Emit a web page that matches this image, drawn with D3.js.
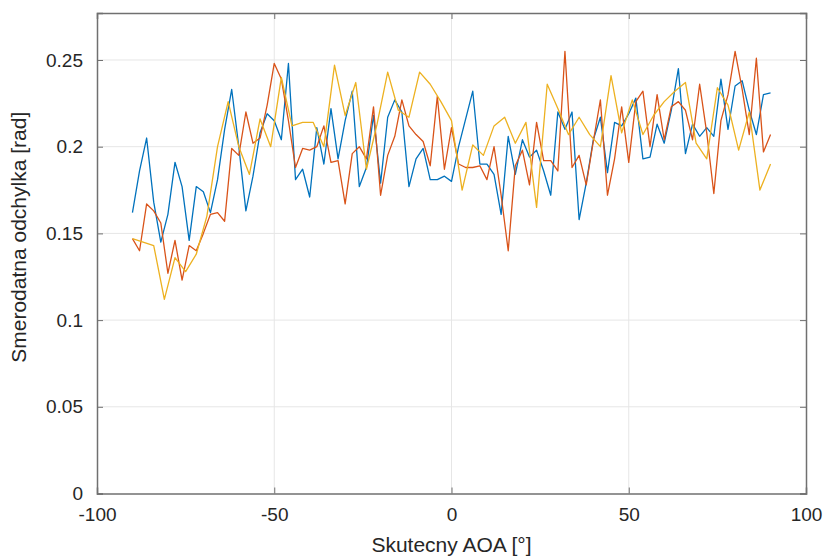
<!DOCTYPE html>
<html>
<head>
<meta charset="utf-8">
<script src="https://cdn.jsdelivr.net/npm/d3@7"></script>
<style>
  html, body { margin: 0; padding: 0; background: #fff; }
  svg { display: block; font-family: "Liberation Sans", Arial, Helvetica, sans-serif; }
</style>
</head>
<body>
<svg id="chart" width="825" height="558"></svg>
<script>
// ---- data ----
const xTicks = [-100, -50, 0, 50, 100];
const xTickLabels = ["-100", "-50", "0", "50", "100"];
const yTicks = [0, 0.05, 0.1, 0.15, 0.2, 0.25];
const yTickLabels = ["0", "0.05", "0.1", "0.15", "0.2", "0.25"];
const xLabel = "Skutecny AOA [°]";
const yLabel = "Smerodatna odchylka [rad]";

// angles for blue & orange series (every 2°)
const anglesA = d3.range(-90, 91, 2);
// angles for yellow series (every 3°)
const anglesB = d3.range(-90, 91, 3);

const blueValues = [
  0.162, 0.186, 0.205, 0.168, 0.145, 0.161, 0.191, 0.177, 0.146, 0.177,
  0.174, 0.162, 0.181, 0.210, 0.233, 0.200, 0.163, 0.183, 0.208, 0.219,
  0.215, 0.204, 0.248, 0.181, 0.187, 0.171, 0.211, 0.190, 0.222, 0.193,
  0.215, 0.232, 0.177, 0.188, 0.218, 0.179, 0.217, 0.227, 0.220, 0.177,
  0.193, 0.199, 0.181, 0.181, 0.183, 0.180, 0.200, 0.216, 0.232, 0.190,
  0.190, 0.184, 0.161, 0.206, 0.184, 0.204, 0.194, 0.198, 0.186, 0.172,
  0.220, 0.210, 0.220, 0.158, 0.179, 0.204, 0.217, 0.185, 0.214, 0.212,
  0.219, 0.228, 0.193, 0.194, 0.213, 0.202, 0.221, 0.245, 0.196, 0.213,
  0.206, 0.211, 0.206, 0.239, 0.210, 0.235, 0.238, 0.221, 0.207, 0.230,
  0.231
];
const orangeValues = [
  0.147, 0.140, 0.167, 0.163, 0.156, 0.127, 0.146, 0.123, 0.143, 0.140,
  0.150, 0.161, 0.162, 0.157, 0.199, 0.195, 0.220, 0.202, 0.205, 0.224,
  0.248, 0.239, 0.215, 0.188, 0.199, 0.198, 0.200, 0.212, 0.191, 0.192,
  0.167, 0.196, 0.200, 0.193, 0.223, 0.172, 0.195, 0.206, 0.227, 0.212,
  0.207, 0.203, 0.189, 0.229, 0.187, 0.211, 0.190, 0.188, 0.188, 0.189,
  0.181, 0.200, 0.172, 0.140, 0.189, 0.198, 0.178, 0.214, 0.192, 0.192,
  0.186, 0.255, 0.188, 0.195, 0.178, 0.203, 0.227, 0.172, 0.193, 0.223,
  0.191, 0.226, 0.232, 0.200, 0.230, 0.204, 0.223, 0.226, 0.221, 0.204,
  0.236, 0.208, 0.173, 0.215, 0.230, 0.255, 0.233, 0.207, 0.251, 0.197,
  0.207
];
const yellowValues = [
  0.147, 0.145, 0.143, 0.112, 0.136, 0.128, 0.138, 0.160, 0.200, 0.226,
  0.200, 0.184, 0.216, 0.200, 0.240, 0.212, 0.214, 0.214, 0.200, 0.247,
  0.218, 0.237, 0.187, 0.213, 0.243, 0.221, 0.217, 0.243, 0.236, 0.226,
  0.215, 0.175, 0.201, 0.195, 0.212, 0.217, 0.202, 0.214, 0.165, 0.236,
  0.222, 0.207, 0.217, 0.207, 0.200, 0.241, 0.208, 0.227, 0.207, 0.218,
  0.226, 0.232, 0.237, 0.202, 0.193, 0.234, 0.224, 0.198, 0.220, 0.175,
  0.190
];

const seriesList = [
  { name: "blue", x: anglesA, y: blueValues, color: "#0072BD" },
  { name: "orange", x: anglesA, y: orangeValues, color: "#D95319" },
  { name: "yellow", x: anglesB, y: yellowValues, color: "#EDB120" }
];

// ---- layout ----
const L = 97, R = 806, T = 13, B = 493.5;
const svg = d3.select("#chart");

const x = d3.scaleLinear().domain([-100, 100]).range([L, R]);
const y = d3.scaleLinear().domain([0, 0.2771]).range([B, T]);

// grid
const grid = svg.append("g");
grid.selectAll("line.gx").data(xTicks.slice(1, -1)).enter().append("line")
  .attr("x1", d => x(d)).attr("x2", d => x(d)).attr("y1", T).attr("y2", B)
  .attr("stroke", "#e6e6e6").attr("stroke-width", 1);
grid.selectAll("line.gy").data(yTicks.slice(1)).enter().append("line")
  .attr("x1", L).attr("x2", R).attr("y1", d => y(d)).attr("y2", d => y(d))
  .attr("stroke", "#e6e6e6").attr("stroke-width", 1);

// series
const line = d3.line().x(d => x(d[0])).y(d => y(d[1]));
seriesList.forEach(s => {
  svg.append("path")
    .datum(s.x.map((a, i) => [a, s.y[i]]))
    .attr("fill", "none")
    .attr("stroke", s.color)
    .attr("stroke-width", 1.3)
    .attr("stroke-linejoin", "round")
    .attr("d", line);
});

// axes (ticks inside)
const axisColor = "#707070";
const fontSize = 19;
const xAxis = svg.append("g").attr("transform", `translate(0,${B})`)
  .call(d3.axisBottom(x).tickValues(xTicks).tickSize(-6).tickPadding(14).tickFormat((d, i) => xTickLabels[i]));
const yAxis = svg.append("g").attr("transform", `translate(${L},0)`)
  .call(d3.axisLeft(y).tickValues(yTicks).tickSize(-6).tickPadding(14).tickFormat((d, i) => yTickLabels[i]));
const xTop = svg.append("g").attr("transform", `translate(0,${T})`)
  .call(d3.axisTop(x).tickValues(xTicks).tickSize(-6).tickFormat(""));
const yRight = svg.append("g").attr("transform", `translate(${R},0)`)
  .call(d3.axisRight(y).tickValues(yTicks).tickSize(-6).tickFormat(""));

[xAxis, yAxis, xTop, yRight].forEach(g => {
  g.select(".domain").attr("stroke", axisColor).attr("stroke-width", 1.5);
  g.selectAll(".tick line").attr("stroke", axisColor).attr("stroke-width", 1);
  g.selectAll(".tick text").attr("fill", "#262626")
    .style("font-size", fontSize + "px")
    .style("font-family", '"Liberation Sans", Arial, Helvetica, sans-serif');
});

// labels
svg.append("text")
  .attr("x", (L + R) / 2).attr("y", 552)
  .attr("text-anchor", "middle")
  .attr("fill", "#262626")
  .style("font-size", "21px")
  .text(xLabel);

svg.append("text")
  .attr("transform", `translate(26,${(T + B) / 2 - 16}) rotate(-90)`)
  .attr("text-anchor", "middle")
  .attr("fill", "#262626")
  .style("font-size", "21px")
  .text(yLabel);
</script>
</body>
</html>
